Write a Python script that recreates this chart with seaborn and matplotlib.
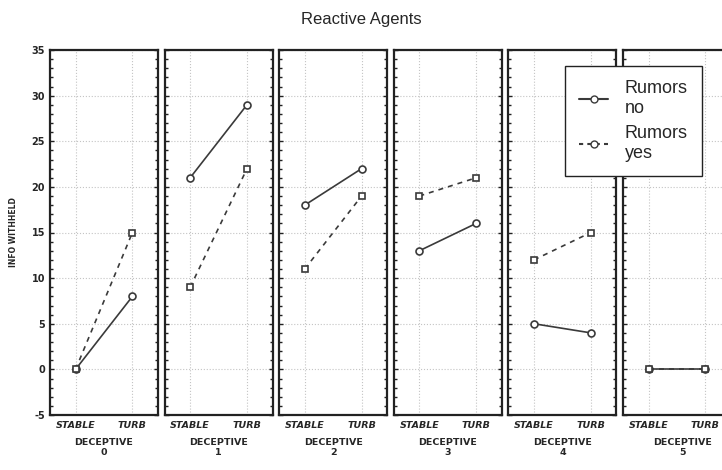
import matplotlib
matplotlib.use("Agg")
import matplotlib.pyplot as plt
from matplotlib.lines import Line2D
from matplotlib.ticker import MultipleLocator
import pandas as pd
import seaborn as sns

# values
deceptive_levels = ["0", "1", "2", "3", "4", "5"]
conditions = ["STABLE", "TURB"]
rumors_no = [[0, 8], [21, 29], [18, 22], [13, 16], [5, 4], [0, 0]]
rumors_yes = [[0, 15], [9, 22], [11, 19], [19, 21], [12, 15], [0, 0]]
y_ticks = [-5, 0, 5, 10, 15, 20, 25, 30, 35]

rows = []
for i, lev in enumerate(deceptive_levels):
    for j, cond in enumerate(conditions):
        rows.append({"deceptive": lev, "cond": cond, "rumors": "no", "value": rumors_no[i][j]})
        rows.append({"deceptive": lev, "cond": cond, "rumors": "yes", "value": rumors_yes[i][j]})
df = pd.DataFrame(rows)

sns.set_style("white")
plt.rcParams["font.family"] = ["DejaVu Sans"]

fig = plt.figure(figsize=(7.22, 4.70), dpi=100)
W, H = 722, 470
panel_w = 108
step = 114.6
top, bottom = 50, 415

line_col = "#3a3a3a"
for i, lev in enumerate(deceptive_levels):
    left = 50 + i * step
    w = panel_w if i < len(deceptive_levels) - 1 else panel_w + 12
    ax = fig.add_axes([left / W, 1 - bottom / H, w / W, (bottom - top) / H])
    sub = df[df["deceptive"] == lev]
    sns.lineplot(data=sub, x="cond", y="value", hue="rumors", style="rumors",
                 palette={"no": line_col, "yes": line_col},
                 markers={"no": "o", "yes": "s"},
                 dashes={"no": "", "yes": (3, 3)},
                 markerfacecolor="white", markeredgecolor=line_col,
                 markersize=5, markeredgewidth=1.2, linewidth=1.2,
                 legend=False, ax=ax)
    ax.set_xlim(-0.45, 1.45 if i < len(deceptive_levels) - 1 else 1.66)
    ax.set_ylim(-5, 35)
    ax.set_yticks(y_ticks)
    ax.yaxis.set_minor_locator(MultipleLocator(1))
    ax.grid(True, which="major", linestyle=":", color="#c4c4c4", linewidth=0.8)
    ax.set_xticks([0, 1])
    ax.set_xticklabels(conditions, fontsize=6.8, fontweight="bold", style="italic")
    ax.set_xlabel(f"DECEPTIVE\n{lev}", fontsize=6.8, fontweight="bold", labelpad=6)
    ax.tick_params(axis="y", which="minor", left=True, right=True, direction="in",
                   length=2, width=1, color="#222222")
    ax.tick_params(axis="y", which="major", left=True, right=True, direction="in",
                   length=3, width=1, color="#222222")
    ax.tick_params(axis="x", which="major", length=0, pad=4)
    for sp in ax.spines.values():
        sp.set_linewidth(1.6)
        sp.set_color("#222222")
    if i == 0:
        ax.set_yticklabels([str(t) for t in y_ticks], fontsize=7, fontweight="bold")
        ax.set_ylabel("INFO WITHHELD", fontsize=5.5, fontweight="bold", labelpad=10)
    else:
        ax.set_yticklabels([])
        ax.set_ylabel("")

fig.suptitle("Reactive Agents", y=0.975, fontsize=12, family=["Liberation Sans"])

handles = [
    Line2D([0], [0], color=line_col, linestyle="-", marker="o", markerfacecolor="white",
           markeredgecolor=line_col, markersize=5),
    Line2D([0], [0], color=line_col, linestyle=(0, (2, 2)), marker="o", markerfacecolor="white",
           markeredgecolor=line_col, markersize=5),
]
leg = fig.legend(handles, ["Rumors\nno", "Rumors\nyes"],
                 loc="upper left", bbox_to_anchor=(565 / W, 1 - 66 / H),
                 prop={"family": "Liberation Sans", "size": 13},
                 frameon=True, fancybox=False, handlelength=1.6, borderpad=0.8,
                 labelspacing=0.45, handletextpad=0.9, borderaxespad=0)
leg.get_frame().set_edgecolor("#222222")
leg.get_frame().set_linewidth(1.0)
leg.get_frame().set_alpha(1)

fig.savefig("out.png", dpi=100)
